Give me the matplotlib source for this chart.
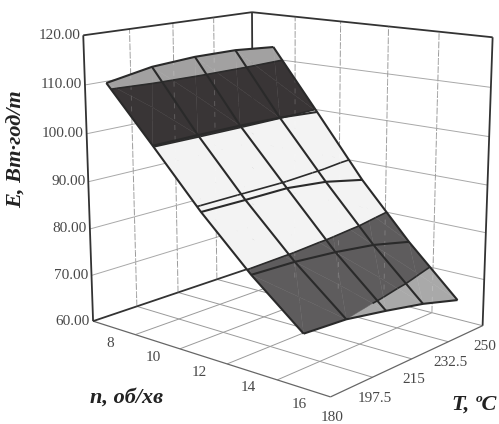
import numpy as np, matplotlib
matplotlib.use('Agg')
import matplotlib.pyplot as plt
from mpl_toolkits.mplot3d import proj3d
from mpl_toolkits.mplot3d.art3d import Poly3DCollection, Line3DCollection

# --- data -------------------------------------------------------------
n_values = [8, 10, 12, 14, 16]
T_values = [180, 197.5, 215, 232.5, 250]
E_values = [
    [111.1, 112.8, 113.4, 113.4, 112.7],
    [100.2, 100.3, 100.3, 100.1, 99.5],
    [89.1, 89.0, 89.0, 88.0, 86.1],
    [79.2, 78.8, 77.9, 76.6, 74.5],
    [70.6, 70.0, 68.4, 66.6, 64.2],
]
n_grid = [7, 9, 11, 13, 15, 17]
E_ticks = [60, 70, 80, 90, 100, 110, 120]
n_labels = ['8', '10', '12', '14', '16']
T_labels = ['180', '197.5', '215', '232.5', '250']
E_labels = ['60.00', '70.00', '80.00', '90.00', '100.00', '110.00', '120.00']
band_edges = [0, 70, 80, 100, 110, 200]
band_colors = ['#a9a9a9', '#5e5c5d', '#f3f3f3', '#393536', '#a2a1a1']
contour_levels = [70, 80, 90, 100, 110]

# --- axes -------------------------------------------------------------
plt.rcParams['font.family'] = ['Liberation Serif', 'DejaVu Serif']
fig = plt.figure(figsize=(4.99, 4.24), dpi=100)
ax = fig.add_axes([0.0787, -0.0167, 0.9665, 1.1375], projection='3d', computed_zorder=False)
ax.set_xlim(7, 17); ax.set_ylim(180, 250); ax.set_zlim(60, 120)
ax.view_init(elev=13.7491, azim=-49.5963)
ax.set_proj_type('persp', focal_length=0.5418)
ax.set_box_aspect((1.0597, 0.8400, 1))
ax.set_axis_off()

nmin, nmax = n_grid[0], n_grid[-1]
Tmin, Tmax = T_values[0], T_values[-1]
Zmin, Zmax = E_ticks[0], E_ticks[-1]

def lines(segs, color, lw, ls='-', z=1, alpha=None):
    ax.add_collection3d(Line3DCollection(segs, colors=color, linewidths=lw,
                                         linestyles=ls, zorder=z, alpha=alpha))

# --- walls and floor grid ---------------------------------------------
horiz = []
for e in E_ticks[1:-1]:
    horiz.append([(nmin, Tmin, e), (nmin, Tmax, e)])
    horiz.append([(nmin, Tmax, e), (nmax, Tmax, e)])
floor = []
for t in T_values[1:-1]:
    floor.append([(nmin, t, Zmin), (nmax, t, Zmin)])
for g in n_grid[1:-1]:
    floor.append([(g, Tmin, Zmin), (g, Tmax, Zmin)])
floor.append([(nmin, Tmax, Zmin), (nmax, Tmax, Zmin)])
vert = []
for t in T_values[1:-1]:
    vert.append([(nmin, t, Zmin), (nmin, t, Zmax)])
for g in n_grid[1:-1]:
    vert.append([(g, Tmax, Zmin), (g, Tmax, Zmax)])
lines(horiz, '#a8a8a8', 0.7)
lines(floor, '#9a9a9a', 0.7)
lines(vert, '#9a9a9a', 0.7, ls=(0, (7, 1.5)))

# --- box --------------------------------------------------------------
lines([[(nmin, Tmin, Zmin), (nmax, Tmin, Zmin)],
       [(nmax, Tmin, Zmin), (nmax, Tmax, Zmin)]], '#666666', 0.9, z=2)
lines([[(nmin, Tmin, Zmin), (nmin, Tmin, Zmax)],
       [(nmin, Tmin, Zmax), (nmin, Tmax, Zmax)],
       [(nmin, Tmax, Zmax), (nmax, Tmax, Zmax)],
       [(nmax, Tmax, Zmax), (nmax, Tmax, Zmin)],
       [(nmin, Tmax, Zmin), (nmin, Tmax, Zmax)],
       [(nmin, Tmin, Zmin), (nmin, Tmax, Zmin)]], '#333333', 1.3, z=2)

# --- surface, cut into bands ------------------------------------------
N = np.array(n_values, float); Tv = np.array(T_values, float); E = np.array(E_values, float)

def clip(poly, level, keep_above):
    out = []
    for k in range(len(poly)):
        a, b = np.array(poly[k]), np.array(poly[(k + 1) % len(poly)])
        ina = a[2] >= level if keep_above else a[2] <= level
        inb = b[2] >= level if keep_above else b[2] <= level
        if ina:
            out.append(a)
        if ina != inb:
            out.append(a + (b - a) * (level - a[2]) / (b[2] - a[2]))
    return out

tris = []
for i in range(len(N) - 1):
    for j in range(len(Tv) - 1):
        p = [np.array((N[i + a], Tv[j + b], E[i + a, j + b])) for a, b in ((0, 0), (1, 0), (1, 1), (0, 1))]
        c = sum(p) / 4
        tris += [[p[k], p[(k + 1) % 4], c] for k in range(4)]

polys, cols = [], []
for lo, hi, col in zip(band_edges[:-1], band_edges[1:], band_colors):
    for t in tris:
        q = clip(t, lo, True)
        if len(q) >= 3:
            q = clip(q, hi, False)
        if len(q) >= 3:
            polys.append(q); cols.append(col)
surf = Poly3DCollection(polys, facecolors=cols, edgecolors=cols, linewidths=0.3, zorder=3)
ax.add_collection3d(surf)

# faint see-through of the wall verticals on the dark bands
ghost = []
for g in n_grid[1:-1]:
    ghost.append([(g, Tmax, 60), (g, Tmax, 120)])
for t in T_values[1:-1]:
    ghost.append([(nmin, t, 60), (nmin, t, 120)])
lines(ghost, 'white', 0.6, ls=(0, (6, 7)), z=4, alpha=0.22)

# contour lines
cseg = []
for lev in contour_levels:
    for t in tris:
        s = []
        for k in range(3):
            a, b = t[k], t[(k + 1) % 3]
            if (a[2] - lev) * (b[2] - lev) < 0:
                s.append(a + (b - a) * (lev - a[2]) / (b[2] - a[2]))
        if len(s) == 2:
            cseg.append(s)
lines(cseg, '#2b2b2b', 1.2, z=5)

# mesh
mesh = []
for i in range(len(N)):
    mesh.append([(N[i], Tv[j], E[i, j]) for j in range(len(Tv))])
for j in range(len(Tv)):
    mesh.append([(N[i], Tv[j], E[i, j]) for i in range(len(N))])
lines(mesh, '#2a2a2a', 1.5, z=6)

# --- labels -----------------------------------------------------------
M = ax.get_proj()
def label(x, y, z, s, off, ha='center'):
    u, v, _ = proj3d.proj_transform(x, y, z, M)
    ax.annotate(s, (u, v), xytext=off, textcoords='offset pixels', ha=ha, va='center',
                fontsize=11, color='#484848', zorder=7, annotation_clip=False)

for n, s in zip(n_values, n_labels):
    label(n, Tmin, Zmin, s, (-4, -16))
for t, s in zip(T_values, T_labels):
    label(nmax, t, Zmin, s, (2, -21))
for e, s in zip(E_ticks, E_labels):
    label(nmin, Tmin, e, s, (-3, 0), ha='right')

tkw = dict(fontsize=16, fontweight='bold', fontstyle='italic', color='#222222',
           ha='center', va='center')
fig.text(17 / 499, 1 - 149 / 424, 'E, Вт·год/т', rotation=90, **tkw)
fig.text(127 / 499, 1 - 398 / 424, 'n, об/хв', **tkw)
fig.text(474 / 499, 1 - 405 / 424, 'T, ºC', **tkw)

fig.savefig('out.png', dpi=100)
